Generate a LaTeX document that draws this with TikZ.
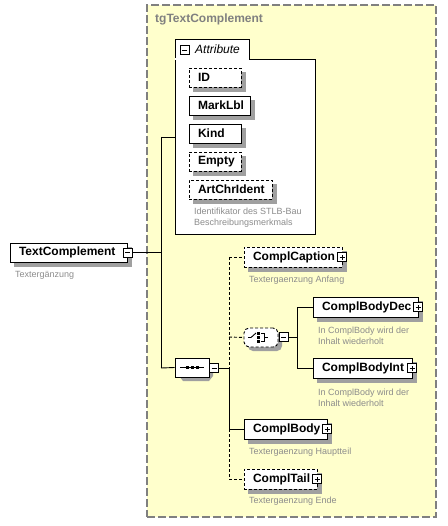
\documentclass[tikz,border=0pt]{standalone}
\usepackage{fontspec}
\setmainfont{Liberation Sans}
\usetikzlibrary{shapes.misc}
\definecolor{grpfill}{HTML}{FFFFCC}
\definecolor{grpline}{HTML}{808080}
\definecolor{shadowc}{HTML}{A0A0A0}
\definecolor{desc}{HTML}{8C8C8C}
\tikzset{
  elem/.style={draw=black, line width=0.9pt, fill=white, inner xsep=9pt, inner ysep=0pt,
    minimum height=20pt, align=left, text width=#1,
    font=\fontsize{12}{14}\selectfont\bfseries},
  attr/.style={elem=#1, minimum height=19pt},
  opt/.style={dash pattern=on 3pt off 2pt},
  pm/.style={draw=black, line width=0.8pt, fill=white, minimum size=9pt, inner sep=0pt},
  minus/.style={pm, path picture={
      \draw[line width=0.8pt] ([xshift=-2.5pt]path picture bounding box.center) -- ([xshift=2.5pt]path picture bounding box.center);}},
  plus/.style={pm, path picture={
      \draw[line width=0.8pt] ([xshift=-2.5pt]path picture bounding box.center) -- ([xshift=2.5pt]path picture bounding box.center);
      \draw[line width=0.8pt] ([yshift=-2.5pt]path picture bounding box.center) -- ([yshift=2.5pt]path picture bounding box.center);}},
  desctext/.style={text=desc, font=\fontsize{9}{10.5}\selectfont, align=left, anchor=base west, inner sep=0pt},
  conn/.style={line width=0.9pt},
  dconn/.style={conn, opt},
}
% shadow of a box given by its left, top, right, bottom pixel edges
\newcommand{\boxshadow}[4]{\fill[fill=shadowc] (#1+4,#2+4) rectangle (#3+5,#4+5);}
\begin{document}
\begin{tikzpicture}[x=1pt,y=-1pt]
\useasboundingbox (0,0) rectangle (447,526);
% group box
\node[draw=grpline, fill=grpfill, line width=1.3pt, dash pattern=on 8pt off 3pt,
      minimum width=289pt, minimum height=512pt, inner sep=0pt] (grp) at (291.5,261) {};
\node[anchor=base west, inner sep=0pt, text=grpline, font=\fontsize{12}{14}\selectfont\bfseries] (grptitle) at (155,23) {tgTextComplement};

% attribute box
\node[draw=black, line width=0.9pt, fill=white, minimum width=140pt, minimum height=175pt, inner sep=0pt] (attrbody) at (245,146.5) {};
\node[draw=black, line width=0.9pt, fill=white, minimum width=74pt, minimum height=20pt, inner sep=0pt] (attrtab) at (212,49.5) {};
\fill[white] (175.45,58) rectangle (248.55,60.5);
\node[minus] (attrm) at (184.5,50) {};
\node[anchor=base west, inner sep=0pt, font=\fontsize{12}{14}\selectfont\itshape] (attrlbl) at (195,54) {Attribute};

% shadows
\boxshadow{189}{68}{241}{87}
\boxshadow{189}{96}{250}{115}
\boxshadow{189}{124}{241}{143}
\boxshadow{189}{152}{241}{171}
\boxshadow{189}{180}{272}{199}
\boxshadow{10}{243}{127}{262}
\boxshadow{244}{247}{342}{267}
\boxshadow{313}{297}{418}{317}
\boxshadow{313}{358}{412}{378}
\boxshadow{244}{419}{327}{439}
\boxshadow{244}{469}{317}{489}
\fill[fill=shadowc] (179+4,358+4) -- (205+4,358+4) -- (209+4,363+4) -- (209+4,372+4) -- (205+4,377+4) -- (179+4,377+4) -- (175+4,372+4) -- (175+4,363+4) -- cycle;
\fill[fill=shadowc, rounded corners=5pt] (244+4,328+4) rectangle (278+4,347+4);

\node[attr=34pt, opt] (id) at (215,77.5) {ID};
\node[attr=43pt] (marklbl) at (219.5,105.5) {MarkLbl};
\node[attr=34pt] (kind) at (215,133.5) {Kind};
\node[attr=34pt, opt] (empty) at (215,161.5) {Empty};
\node[attr=65pt, opt] (artchr) at (230.5,189.5) {ArtChrIdent};
\node[desctext] (artchrdesc) at (194,225.5) {Identifikator des STLB-Bau\\Beschreibungsmerkmals};

% root element
\node[elem=99pt, minimum height=19pt] (tc) at (68.5,252.5) {TextComplement};
\node[minus] (tcm) at (127.5,252.5) {};
\node[desctext] (tcdesc) at (15,277) {Textergänzung};

% sequence
\node[chamfered rectangle, chamfered rectangle xsep=4pt, chamfered rectangle ysep=5pt,
      draw=black, line width=0.9pt, fill=white, minimum width=34pt, minimum height=19pt, inner sep=0pt] (seq) at (192,367.5) {};
\begin{scope}[shift={(seq.center)}]
  \draw[line width=0.9pt] (-12,0) -- (12,0);
  \fill (-6.5,-1.5) rectangle (-3.5,1.5);
  \fill (-1.5,-1.5) rectangle (1.5,1.5);
  \fill (3.5,-1.5) rectangle (6.5,1.5);
\end{scope}
\node[minus] (seqm) at (214,368) {};

% choice
\node[draw=black, line width=0.9pt, opt, fill=white, rounded corners=5pt, minimum width=34pt, minimum height=19pt, inner sep=0pt] (choice) at (261,337.5) {};
\begin{scope}[shift={(choice.center)}, line width=0.9pt]
  \draw (-13,0) -- (-10,0) -- (-5,-4.5);
  \fill (-4,-5.5) rectangle (-1,-2.5);
  \fill (-4,-1.5) rectangle (-1,1.5);
  \fill (-4,2.5) rectangle (-1,5.5);
  \draw (0,-4) -- (3,-4) -- (3,4) -- (0,4);
  \draw (3,0) -- (7,0);
\end{scope}
\node[minus] (choicem) at (283.5,337) {};

% children
\node[elem=80pt, opt] (caption) at (293,257) {ComplCaption};
\node[plus] (captionp) at (342,257) {};
\node[desctext] (captiondesc) at (249,282) {Textergaenzung Anfang};

\node[elem=87pt] (bodydec) at (365.5,307) {ComplBodyDec};
\node[plus] (bodydecp) at (418,307) {};
\node[desctext] (bodydecdesc) at (318,344) {In ComplBody wird der\\Inhalt wiederholt};

\node[elem=81pt] (bodyint) at (362.5,368) {ComplBodyInt};
\node[plus] (bodyintp) at (412,368) {};
\node[desctext] (bodyintdesc) at (318,406) {In ComplBody wird der\\Inhalt wiederholt};

\node[elem=65pt] (body) at (285.5,429) {ComplBody};
\node[plus] (bodyp) at (327,429) {};
\node[desctext] (bodydesc) at (249,454) {Textergaenzung Hauptteil};

\node[elem=55pt, opt] (tail) at (280.5,479) {ComplTail};
\node[plus] (tailp) at (317,479) {};
\node[desctext] (taildesc) at (249,503) {Textergaenzung Ende};

% junction coordinates
\coordinate (j1) at (161,252.5);
\coordinate (ja) at (161,137);
\coordinate (jb) at (161,368);
\coordinate (k0) at (229,257);
\coordinate (k1) at (229,337);
\coordinate (k2) at (229,368);
\coordinate (k3) at (229,429);
\coordinate (k4) at (229,479);
\coordinate (c0) at (297,307);
\coordinate (c1) at (297,337);
\coordinate (c2) at (297,368);

% connectors
\draw[conn] (tcm.east) -- (j1);
\draw[conn] (ja) -- (jb);
\draw[conn] (ja) -- (ja -| attrbody.west);
\draw[conn] (jb) -- (seq.west);
\draw[conn] (seqm.east) -- (k2);
\draw[dconn] (k0) -- (k2);
\draw[conn] (k2) -- (k3);
\draw[dconn] (k3) -- (k4);
\draw[dconn] (k0) -- (caption.west);
\draw[dconn] (k1) -- (choice.west);
\draw[conn] (k3) -- (body.west);
\draw[dconn] (k4) -- (tail.west);
\draw[conn] (choicem.east) -- (c1);
\draw[conn] (c0) -- (c2);
\draw[conn] (c0) -- (bodydec.west);
\draw[conn] (c2) -- (bodyint.west);
\end{tikzpicture}
\end{document}
